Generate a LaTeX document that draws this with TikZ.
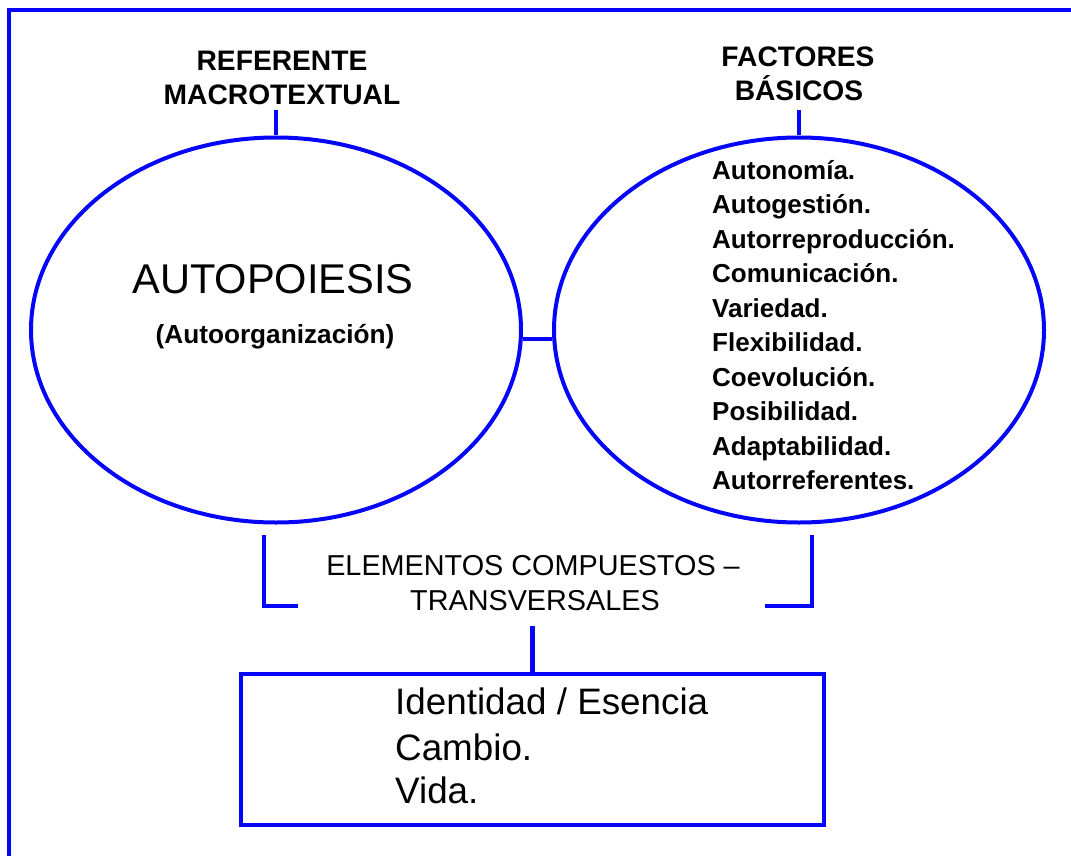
\documentclass[tikz,border=0pt]{standalone}
\usepackage{fontspec}
\setmainfont{Liberation Sans}
\usetikzlibrary{shapes.geometric}
\definecolor{dblue}{RGB}{5,5,250}
\begin{document}
\begin{tikzpicture}[x=1pt,y=-1pt,
  oval/.style={ellipse, draw=dblue, line width=4pt, minimum width=490pt, minimum height=385pt, inner sep=0pt},
  conn/.style={draw=dblue, line width=4.2pt},
  boxstyle/.style={draw=dblue, line width=4.2pt, minimum width=583pt, minimum height=151pt, inner sep=0pt},
  ttl/.style={font=\fontsize{28.2}{34}\selectfont\bfseries, inner sep=0pt, anchor=base},
  listtxt/.style={font=\fontsize{26}{34}\selectfont\bfseries, inner sep=0pt, anchor=base west},
  bigtxt/.style={font=\fontsize{41.6}{48}\selectfont, inner sep=0pt, anchor=base},
  subtxt/.style={font=\fontsize{26.2}{30}\selectfont\bfseries, inner sep=0pt, anchor=base},
  midtxt/.style={font=\fontsize{28.8}{35}\selectfont, inner sep=0pt, anchor=base},
  boxtxt/.style={font=\fontsize{36.8}{44}\selectfont, inner sep=0pt, anchor=base west}]
\useasboundingbox (0,0) rectangle (1071,856);
\fill[white] (0,0) rectangle (1071,856);
% frame
\draw[conn] (9,856) -- (9,10) -- (1071,10);
% titles
\node[ttl] (ref1) at (282,71) {REFERENTE};
\node[ttl] (ref2) at (282,105) {MACROTEXTUAL};
\node[ttl] (fac1) at (798,67) {FACTORES};
\node[ttl] (fac2) at (799,101) {BÁSICOS};
% ellipses
\node[oval] (L) at (276,330) {};
\node[oval] (R) at (799,330) {};
\node[bigtxt] (auto) at (273,293) {AUTOPOIESIS};
\node[subtxt] (autoorg) at (275,343) {(Autoorganización)};
\foreach \t [count=\i] in {Autonomía.,Autogestión.,Autorreproducción.,Comunicación.,Variedad.,Flexibilidad.,Coevolución.,Posibilidad.,Adaptabilidad.,Autorreferentes.}
  \node[listtxt] (f\i) at (712,{179+34.5*(\i-1)}) {\t};
% connectors
\draw[conn, line width=3.8pt, shorten >=5pt] (L.north) -- (L.north |- ref2.base);
\draw[conn, line width=3.8pt, shorten >=9pt] (R.north) -- (R.north |- fac2.base);
\draw[conn, line width=3.8pt] (L.-2) -- (R.182);
% brackets
\draw[conn] (298,606) -- (264,606) -- (264,535);
\draw[conn] (765,606) -- (812,606) -- (812,535);
% middle text
\node[midtxt] (elem1) at (533,575) {ELEMENTOS COMPUESTOS –};
\node[midtxt] (elem2) at (535,610) {TRANSVERSALES};
% box
\node[boxstyle] (box) at (532.5,749.5) {};
\draw[conn, shorten <=16pt] (box.north |- elem2.base) -- (box.north);
\node[boxtxt] (b1) at (395,714) {Identidad / Esencia};
\node[boxtxt] (b2) at (395,760) {Cambio.};
\node[boxtxt] (b3) at (395,803) {Vida.};
\end{tikzpicture}
\end{document}
